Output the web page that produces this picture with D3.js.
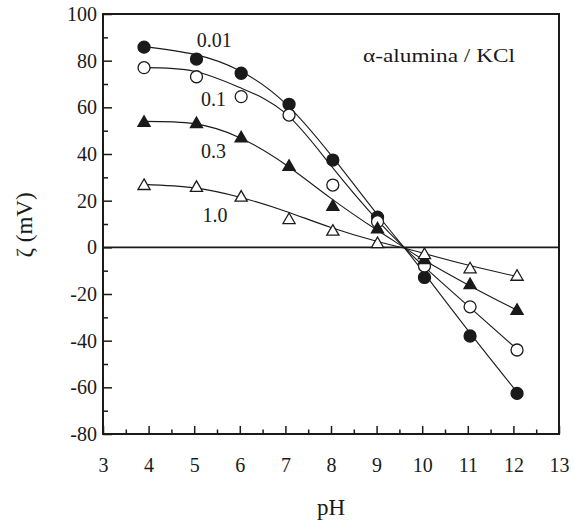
<!DOCTYPE html>
<html><head><meta charset="utf-8">
<script src="https://cdn.jsdelivr.net/npm/d3@7"></script>
<style>body{margin:0;background:#fff}svg{display:block}</style>
</head><body>
<svg id="c" width="574" height="526"></svg>
<script>
// measured points
const pH = [3.9, 5.05, 6.03, 7.08, 8.04, 9.02, 10.05, 11.05, 12.08];
const zeta001 = [85.8, 80.7, 74.6, 61.3, 37.4, 12.9, -12.9, -38.0, -62.6];
const zeta01  = [77.0, 73.1, 64.6, 56.7, 26.7, 11.0, -8.0, -25.5, -44.0];
const zeta03  = [53.4, 52.8, 46.7, 34.5, 17.4, 7.7, -5.5, -16.2, -27.2];
const zeta10  = [26.3, 25.5, 21.3, 11.7, 6.7, 1.4, -3.3, -9.4, -12.6];
// smooth fitted curves
const fitPH  = [3.9, 5, 6, 7, 8, 9, 9.6, 10, 11, 12.1];
const fit001 = [86, 82.7, 75.7, 61.7, 39.5, 14.5, 0, -10, -35.5, -62.6];
const fit01  = [77, 75.5, 68.5, 57.5, 35, 12, 0, -7.5, -25, -44];
const fit03  = [54, 53, 47, 35.5, 21, 7.5, 0, -5, -16, -27.2];
const fit10  = [27, 25.5, 21.5, 15.5, 8.5, 2.6, -0.3, -2.4, -7.6, -12.6];
const seriesNames = ["0.01", "0.1", "0.3", "1.0"];
const xTicks = [3,4,5,6,7,8,9,10,11,12,13];
const yTicks = [-80,-60,-40,-20,0,20,40,60,80,100];

const svg = d3.select("#c");
const L=103, R=559, T=14, B=434;
const x = d3.scaleLinear().domain([3,13]).range([L,R]);
const y = d3.scaleLinear().domain([-80,100]).range([B,T]);
const ink = "#1a1a1a";
const serif = "Liberation Serif, DejaVu Serif, serif";

// zero line
svg.append("line").attr("x1",x(3)).attr("x2",x(13)).attr("y1",y(0)).attr("y2",y(0))
  .attr("stroke",ink).attr("stroke-width",1.6);

// axes
const fmt = d => String(d);
const gx = svg.append("g").attr("transform",`translate(0,${B})`)
  .call(d3.axisBottom(x).tickValues(xTicks).tickSize(-8).tickPadding(24).tickFormat(fmt));
const gxm = svg.append("g").attr("transform",`translate(0,${B})`)
  .call(d3.axisBottom(x).tickValues(d3.range(3.5,13,1)).tickSize(-4.5).tickFormat(""));
const gy = svg.append("g").attr("transform",`translate(${L},0)`)
  .call(d3.axisLeft(y).tickValues(yTicks).tickSize(-9).tickPadding(6).tickFormat(fmt));
const gym = svg.append("g").attr("transform",`translate(${L},0)`)
  .call(d3.axisLeft(y).tickValues(d3.range(-70,100,20)).tickSize(-5).tickFormat(""));
[gx,gxm,gy,gym].forEach(g=>{
  g.attr("font-family",serif).attr("font-size",20);
  g.select(".domain").remove();
  g.selectAll(".tick line").attr("stroke",ink).attr("stroke-width",1.5);
  g.selectAll("text").attr("fill",ink).style("font-family",serif).attr("font-size",20);
});

// frame
svg.append("rect").attr("x",L).attr("y",T).attr("width",R-L).attr("height",B-T)
  .attr("fill","none").attr("stroke",ink).attr("stroke-width",2);

// curves
const line = d3.line().x((d,i)=>x(fitPH[i])).y(d=>y(d)).curve(d3.curveNatural);
[fit001,fit01,fit03,fit10].forEach(f=>{
  svg.append("path").attr("d",line(f)).attr("fill","none").attr("stroke",ink).attr("stroke-width",1.1);
});

// markers
const circ = d3.symbol().type(d3.symbolCircle).size(Math.PI*36);
const tri = d3.symbol().type(d3.symbolTriangle).size(64);
const marks = [
  {v:zeta001, sym:circ, fill:ink},
  {v:zeta01, sym:circ, fill:"#fff"},
  {v:zeta03, sym:tri, fill:ink},
  {v:zeta10, sym:tri, fill:"#fff"}
];
marks.forEach(m=>{
  svg.append("g").selectAll("path").data(m.v).join("path")
    .attr("d",m.sym)
    .attr("transform",(d,i)=>`translate(${x(pH[i])},${y(d)})`)
    .attr("fill",m.fill).attr("stroke",ink).attr("stroke-width",1.3);
});

// series labels
const labelPos = [[5.055,86],[5.15,60.7],[5.15,38.1],[5.18,11]];
seriesNames.forEach((s,i)=>{
  svg.append("text").attr("x",x(labelPos[i][0])).attr("y",y(labelPos[i][1]))
    .style("font-family",serif).attr("font-size",20).attr("fill",ink).text(s);
});

svg.append("text").attr("x",363).attr("y",62).style("font-family",serif).attr("font-size",18)
  .attr("textLength",152).attr("lengthAdjust","spacingAndGlyphs")
  .attr("fill",ink).text("α-alumina / KCl");

// axis titles
svg.append("text").attr("x",(L+R)/2).attr("y",515).attr("text-anchor","middle")
  .style("font-family",serif).attr("font-size",23).attr("fill",ink).text("pH");
svg.append("text").attr("transform","translate(32,225) rotate(-90)").attr("text-anchor","middle")
  .style("font-family",serif).attr("font-size",23).attr("fill",ink).text("ζ (mV)");
</script>
</body></html>
